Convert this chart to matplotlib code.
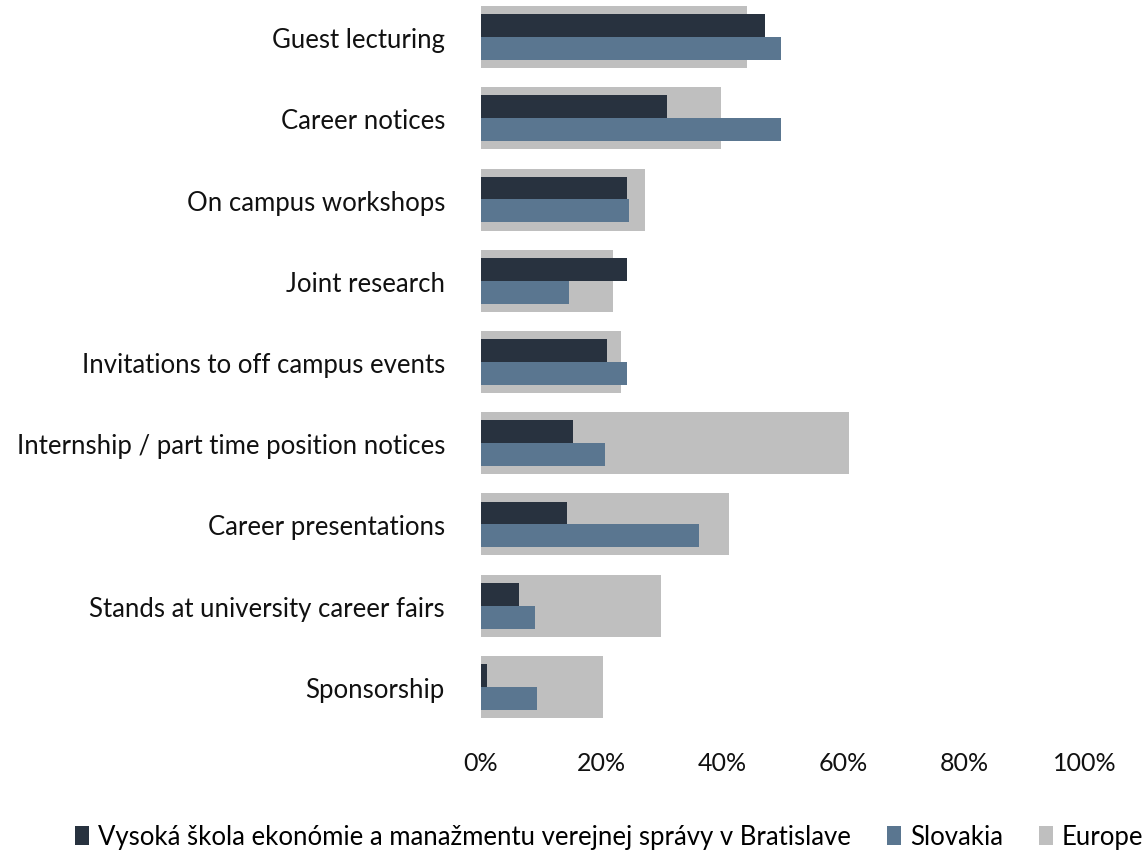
import matplotlib.pyplot as plt
import numpy as np

# categories listed bottom to top
categories = ['Sponsorship', 'Stands at university career fairs', 'Career presentations',
              'Internship / part time position notices', 'Invitations to off campus events',
              'Joint research', 'On campus workshops', 'Career notices', 'Guest lecturing']
school = [1.0, 6.3, 14.2, 15.2, 20.9, 24.2, 24.2, 30.8, 47.0]
slovakia = [9.3, 8.9, 36.1, 20.5, 24.2, 14.6, 24.5, 49.7, 49.7]
europe = [20.2, 29.8, 41.1, 60.9, 23.2, 21.9, 27.2, 39.7, 44.0]

c_school = '#28323F'
c_slovakia = '#5A7690'
c_europe = '#BFBFBF'

plt.rcParams['font.family'] = ['Lato', 'DejaVu Sans']

fig = plt.figure(figsize=(11.45, 8.54), dpi=100)
ax = fig.add_axes([481/1145, 1 - 728.6/854, (1085-481)/1145, 731.2/854])

y = np.arange(len(categories))
ax.barh(y, europe, height=0.763, color=c_europe, label='Europe', zorder=1)
ax.barh(y + 0.14, school, height=0.285, color=c_school,
        label='Vysoká škola ekonómie a manažmentu verejnej správy v Bratislave', zorder=2)
ax.barh(y - 0.14, slovakia, height=0.285, color=c_slovakia, label='Slovakia', zorder=2)

ax.set_xlim(0, 100)
ax.set_ylim(-0.5, len(categories) - 0.5)
ax.set_xticks(range(0, 101, 20))
ax.set_xticklabels([f'{v}%' for v in range(0, 101, 20)], fontsize=18, color='#111111')
ax.set_yticks(y)
ax.set_yticklabels(categories, fontsize=18.5, color='#111111')
ax.tick_params(axis='both', length=0)
ax.tick_params(axis='x', pad=17)
ax.tick_params(axis='y', pad=26)
for s in ax.spines.values():
    s.set_visible(False)

handles, labels = ax.get_legend_handles_labels()
order = [1, 2, 0]
fig.legend([handles[i] for i in order], [labels[i] for i in order],
           loc='center', bbox_to_anchor=(0.532, 1 - 838/854), ncol=3, frameon=False,
           fontsize=18.5, handlelength=0.55, handleheight=0.75, handletextpad=0.35,
           columnspacing=1.4)

fig.savefig('out.png', dpi=100)
